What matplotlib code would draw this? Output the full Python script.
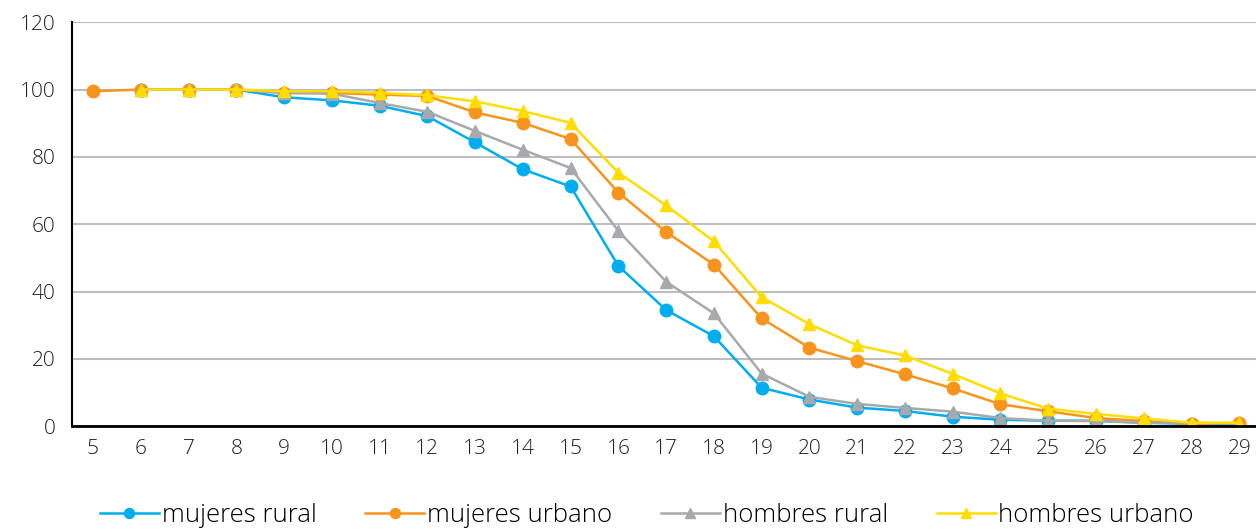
import numpy as np
import matplotlib.pyplot as plt

edades = list(range(5, 30))

# NaN where a series has no point
mujeres_rural = [np.nan, 100, 100, 100, 97.7, 96.8, 95.2, 92.1, 84.3, 76.3, 71.2, 47.6, 34.5, 26.7,
                 11.4, 7.9, 5.5, 4.5, 2.8, 1.9, 1.6, 1.6, 1.0, 0.7, 0.4]
mujeres_urbano = [99.5, 100, 100, 100, 99.0, 99.0, 98.5, 98.1, 93.2, 90.1, 85.3, 69.4, 57.7, 48.0,
                  32.0, 23.3, 19.3, 15.4, 11.2, 6.5, 4.4, 2.4, 1.5, 0.6, 1.0]
hombres_rural = [np.nan, 100, 100, 100, 99.0, 98.8, 96.0, 93.4, 87.7, 82.1, 76.7, 58.0, 42.9, 33.5,
                 15.6, 8.7, 6.6, 5.4, 4.3, 2.4, 1.6, 1.5, 1.0, 1.0, 0.7]
hombres_urbano = [np.nan, 100, 100, 100, 99.5, 99.5, 99.0, 98.3, 96.5, 93.6, 90.1, 75.3, 65.6, 54.9,
                  38.3, 30.3, 24.0, 21.0, 15.5, 9.7, 5.2, 3.6, 2.3, 1.0, 1.0]

series = [
    ('mujeres rural', mujeres_rural, '#00AEEF', 'o'),
    ('mujeres urbano', mujeres_urbano, '#F7941D', 'o'),
    ('hombres rural', hombres_rural, '#A7A9AC', '^'),
    ('hombres urbano', hombres_urbano, '#FFDD00', '^'),
]

plt.rcParams['font.family'] = ['Open Sans', 'DejaVu Sans']
plt.rcParams['font.weight'] = 'light'

fig = plt.figure(figsize=(12.56, 5.3), dpi=100)
ax = fig.add_axes([0.0573, 0.196, 0.9427, 0.762])

for label, vals, color, marker in series:
    ax.plot(edades, vals, color=color, marker=marker, markersize=9, linewidth=1.8,
            label=label, zorder=3)

ax.set_xlim(4.56, 29.35)
ax.set_ylim(0, 120)
ax.set_yticks(range(0, 121, 20))
ax.set_xticks(edades)
ax.yaxis.grid(True, color='#BCBEC0', linewidth=1.5)
ax.set_axisbelow(True)
for s in ['top', 'right']:
    ax.spines[s].set_visible(False)
ax.spines['left'].set_linewidth(1.5)
ax.spines['bottom'].set_linewidth(2)
ax.spines['bottom'].set_zorder(4)
ax.tick_params(axis='both', length=0, labelsize=15, colors='#231F20')
ax.tick_params(axis='x', pad=9)
ax.tick_params(axis='y', pad=12)

fig.legend(loc='lower center', bbox_to_anchor=(0.515, -0.04), ncol=4, frameon=False,
           fontsize=18.5, handlelength=2.3, handletextpad=0.1, columnspacing=1.9,
           markerscale=0.8)

fig.savefig('out.png', dpi=100)
